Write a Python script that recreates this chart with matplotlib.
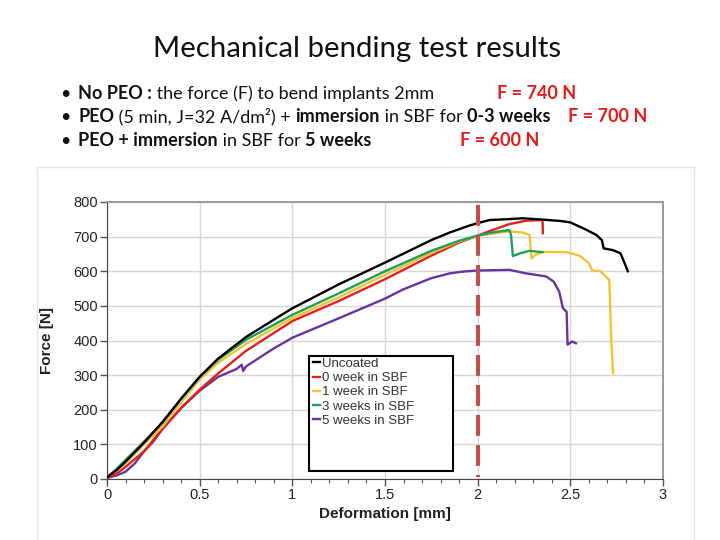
import matplotlib
matplotlib.use("Agg")
import matplotlib.pyplot as plt
from matplotlib.patches import Rectangle

# curves: deformation [mm] / force [N]
uncoated_x = [0, 0.05, 0.1, 0.2, 0.3, 0.4, 0.5, 0.6, 0.75, 0.9, 1.0, 1.25, 1.5, 1.75, 1.85,
              1.95, 2.0, 2.065, 2.15, 2.245, 2.355, 2.45, 2.5, 2.57, 2.64, 2.67, 2.68, 2.73,
              2.77, 2.79, 2.81]
uncoated_y = [5, 25, 50, 105, 165, 232, 295, 348, 410, 460, 493, 562, 625, 690, 712,
              731, 739, 748, 750, 753, 749, 745, 741, 724, 705, 690, 666, 661,
              652, 627, 600]

week0_x = [0, 0.05, 0.1, 0.2, 0.25, 0.3, 0.4, 0.5, 0.6, 0.75, 1.0, 1.25, 1.5, 1.75, 1.9,
           2.0, 2.08, 2.17, 2.26, 2.35, 2.352]
week0_y = [3, 15, 35, 80, 113, 145, 205, 258, 305, 370, 456, 514, 577, 645, 683,
           703, 719, 736, 746, 748, 710]

week1_x = [0, 0.1, 0.2, 0.3, 0.4, 0.5, 0.6, 0.75, 1.0, 1.25, 1.5, 1.75, 1.9, 2.0, 2.17,
           2.24, 2.28, 2.29, 2.31, 2.35, 2.48, 2.55, 2.6, 2.62, 2.66, 2.71, 2.72, 2.73]
week1_y = [5, 45, 100, 152, 222, 287, 336, 390, 465, 525, 590, 653, 686, 703, 715,
           712, 705, 637, 647, 656, 655, 645, 623, 601, 601, 575, 416, 306]

week3_x = [0, 0.05, 0.1, 0.2, 0.3, 0.4, 0.5, 0.6, 0.75, 1.0, 1.25, 1.5, 1.75, 1.9, 2.0,
           2.08, 2.17, 2.18, 2.19, 2.23, 2.28, 2.35]
week3_y = [5, 28, 55, 108, 162, 232, 295, 345, 402, 474, 536, 600, 659, 688, 703,
           712, 719, 705, 644, 652, 659, 655]

week5_x = [0, 0.05, 0.1, 0.15, 0.2, 0.25, 0.3, 0.4, 0.5, 0.6, 0.7, 0.727, 0.735, 0.75, 0.85,
           0.9, 1.0, 1.25, 1.5, 1.6, 1.75, 1.85, 1.92, 2.0, 2.17, 2.26, 2.37, 2.41, 2.44,
           2.46, 2.48, 2.485, 2.51, 2.53]
week5_y = [3, 10, 21, 45, 80, 108, 145, 205, 255, 295, 318, 330, 312, 325, 360,
           377, 408, 464, 521, 548, 580, 594, 599, 602, 604, 594, 585, 570, 541,
           493, 483, 388, 397, 392]

series_labels = ["Uncoated", "0 week in SBF", "1 week in SBF", "3 weeks in SBF", "5 weeks in SBF"]
series_colors = ["#000000", "#e3201b", "#f3c232", "#1f9e57", "#6a329f"]

x_ticks = [0, 0.5, 1, 1.5, 2, 2.5, 3]
x_ticklabels = ["0", "0.5", "1", "1.5", "2", "2.5", "3"]
y_ticks = [0, 100, 200, 300, 400, 500, 600, 700, 800]
marker_x = 2.0

title = "Mechanical bending test results"
bullets = [
    [("No PEO :", True), (" the force (F) to bend implants 2mm", False)],
    [("PEO", True), (" (5 min, J=32 A/dm\u00b2) + ", False), ("immersion", True),
     (" in SBF for ", False), ("0-3 weeks", True)],
    [("PEO + immersion", True), (" in SBF for ", False), ("5 weeks", True)],
]
forces = ["F = 740 N", "F = 700 N", "F = 600 N"]

W, H = 720, 540
fig = plt.figure(figsize=(7.2, 5.4), dpi=100)
fig.patch.set_facecolor("white")

def fx(px):
    return px / W

def fy(py):
    return 1 - py / H

# light frame of the pasted chart picture
fig.add_artist(Rectangle((fx(37), fy(545)), fx(694) - fx(37), fy(167) - fy(545),
                         transform=fig.transFigure, fill=False, edgecolor="#e4e4e4", lw=1))

chart_font = ["Liberation Sans Narrow", "Liberation Sans", "DejaVu Sans"]
slide_font = ["Lato", "DejaVu Sans"]

ax = fig.add_axes([fx(107), fy(479), fx(663) - fx(107), fy(202) - fy(479)])
all_x = [uncoated_x, week0_x, week1_x, week3_x, week5_x]
all_y = [uncoated_y, week0_y, week1_y, week3_y, week5_y]
order = [4, 1, 2, 3, 0]
for i in order:
    ax.plot(all_x[i], all_y[i], color=series_colors[i], lw=1.7, label=series_labels[i],
            zorder=3 + (i == 0))

# dashed marker at 2 mm, drawn top-down so the dash pattern starts at the top
ax.plot([marker_x, marker_x], [791, 6], color="#c0504d", lw=3, dashes=(5, 2.2), zorder=5)

ax.set_xlim(0, 3)
ax.set_ylim(0, 800)
ax.set_xticks(x_ticks)
ax.set_xticklabels(x_ticklabels)
ax.set_xticks([i / 10 for i in range(31)], minor=True)
ax.set_yticks(y_ticks)
ax.grid(True, color="#d6d6d6", lw=1)
ax.set_axisbelow(True)
ax.tick_params(axis="both", which="major", length=5, width=1, color="#555555",
               labelsize=10.5, labelcolor="#222222", pad=1.5)
ax.tick_params(axis="x", which="minor", length=3, width=0.8, color="#555555")
for lab in ax.get_xticklabels() + ax.get_yticklabels():
    lab.set_family(chart_font)
for s in ["left", "bottom"]:
    ax.spines[s].set_color("#444444")
for s in ["top", "right"]:
    ax.spines[s].set_color("#9a9a9a")
    ax.spines[s].set_linewidth(1.4)

fig.text(fx(47), fy(340), "Force [N]", rotation=90, ha="center", va="center",
         fontsize=11, fontweight="bold", family=chart_font, color="#222222")
fig.text(fx(385), fy(514), "Deformation [mm]", ha="center", va="center",
         fontsize=11, fontweight="bold", family=chart_font, color="#222222")

# legend box is taller than its entries
ax.add_patch(Rectangle((0.363, 0.029), 0.259, 0.415, transform=ax.transAxes,
                       facecolor="white", edgecolor="black", lw=1.5, zorder=6))
handles, labels = ax.get_legend_handles_labels()
idx = [labels.index(l) for l in series_labels]
leg = ax.legend([handles[i] for i in idx], [labels[i] for i in idx],
                loc="upper left", bbox_to_anchor=(0.365, 0.447), frameon=False,
                handlelength=0.6, handletextpad=0.1, labelspacing=0.15, borderpad=0.2,
                borderaxespad=0, prop={"family": chart_font, "size": 9.5})
leg.set_zorder(7)
for t in leg.get_texts():
    t.set_color("#333333")

# slide title and bullet text
fig.text(fx(357), fy(57), title, ha="center", va="baseline", fontsize=21.2,
         family=slide_font, color="#111111")

renderer = fig.canvas.get_renderer()

def text_width(s, size, bold):
    a = fig.text(0, 0, "x" + s + "x", fontsize=size, family=slide_font,
                 fontweight="bold" if bold else "normal")
    b = fig.text(0, 0, "xx", fontsize=size, family=slide_font,
                 fontweight="bold" if bold else "normal")
    w = a.get_window_extent(renderer).width - b.get_window_extent(renderer).width
    a.remove()
    b.remove()
    return w

line_base = [99, 122, 146]
force_x = [497, 568, 460]
fs = 13
for k, segs in enumerate(bullets):
    fig.text(fx(60), fy(line_base[k]), "\u2022", fontsize=fs, family=slide_font,
             va="baseline", color="#111111")
    x = 78
    for s, bold in segs:
        fig.text(fx(x), fy(line_base[k]), s, fontsize=fs, family=slide_font,
                 fontweight="bold" if bold else "normal", va="baseline", color="#111111")
        x += text_width(s, fs, bold)
    fig.text(fx(force_x[k]), fy(line_base[k]), forces[k], fontsize=fs, family=slide_font,
             fontweight="bold", va="baseline", color="#e31b1b")

fig.savefig("out.png", dpi=100)
